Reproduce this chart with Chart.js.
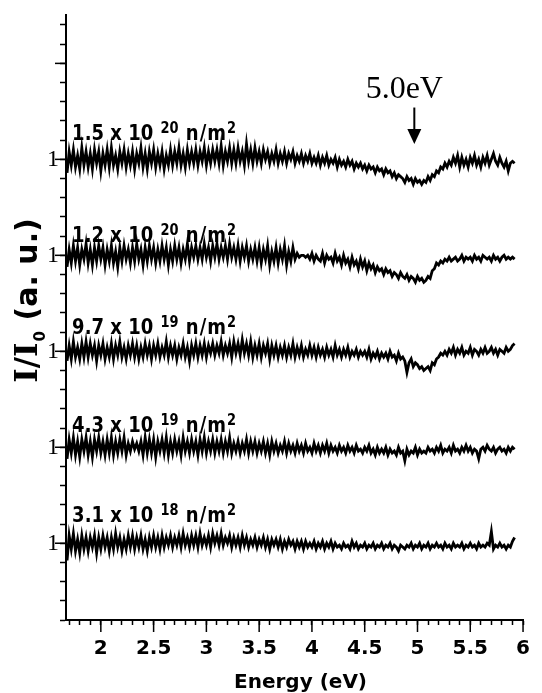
<!DOCTYPE html>
<html><head><meta charset="utf-8">
<script src="https://cdn.jsdelivr.net/npm/chart.js@4.4.1/dist/chart.umd.min.js"></script>
<style>html,body{margin:0;padding:0;background:#fff;}canvas{display:block;}</style>
</head><body>
<canvas id="c" width="542" height="693"></canvas>
<script>
// Photon energy (eV)
const energy = [
1.68,1.7,1.72,1.74,1.76,1.78,1.8,1.82,1.84,1.86,
1.88,1.9,1.92,1.94,1.96,1.98,2,2.02,2.04,2.06,
2.08,2.1,2.12,2.14,2.16,2.18,2.2,2.22,2.24,2.26,
2.28,2.3,2.32,2.34,2.36,2.38,2.4,2.42,2.44,2.46,
2.48,2.5,2.52,2.54,2.56,2.58,2.6,2.62,2.64,2.66,
2.68,2.7,2.72,2.74,2.76,2.78,2.8,2.82,2.84,2.86,
2.88,2.9,2.92,2.94,2.96,2.98,3,3.02,3.04,3.06,
3.08,3.1,3.12,3.14,3.16,3.18,3.2,3.22,3.24,3.26,
3.28,3.3,3.32,3.34,3.36,3.38,3.4,3.42,3.44,3.46,
3.48,3.5,3.52,3.54,3.56,3.58,3.6,3.62,3.64,3.66,
3.68,3.7,3.72,3.74,3.76,3.78,3.8,3.82,3.84,3.86,
3.88,3.9,3.92,3.94,3.96,3.98,4,4.02,4.04,4.06,
4.08,4.1,4.12,4.14,4.16,4.18,4.2,4.22,4.24,4.26,
4.28,4.3,4.32,4.34,4.36,4.38,4.4,4.42,4.44,4.46,
4.48,4.5,4.52,4.54,4.56,4.58,4.6,4.62,4.64,4.66,
4.68,4.7,4.72,4.74,4.76,4.78,4.8,4.82,4.84,4.86,
4.88,4.9,4.92,4.94,4.96,4.98,5,5.02,5.04,5.06,
5.08,5.1,5.12,5.14,5.16,5.18,5.2,5.22,5.24,5.26,
5.28,5.3,5.32,5.34,5.36,5.38,5.4,5.42,5.44,5.46,
5.48,5.5,5.52,5.54,5.56,5.58,5.6,5.62,5.64,5.66,
5.68,5.7,5.72,5.74,5.76,5.78,5.8,5.82,5.84,5.86,
5.88,5.9,5.92];

// I/I0 deviation from each trace's "1" level (a.u., 1 minor tick = 10)
const dose15e20 = [
-7,4,-3,5,-4,2,-5,6,-3,4, -4,3,-5,5,-2,4,-6,3,-3,5, -4,6,-3,2,-5,4,-2,5,-4,3,
-3,4,-5,3,-2,6,-4,3,-5,4, -2,5,-4,3,-3,4,-5,2,-3,5, -3,4,-2,6,-3,3,-4,5,-2,4,
-2,5,-3,4,-1,6,-3,4,-2,5, -1,5,-2,7,-3,4,-1,6,-2,5, -2,6,-1,4,-3,8,-1,5,-2,6,
-1,4,-2,5,0,4,-2,3,-1,5, -2,3,-1,4,-2,3,0,4,-2,2, -1,3,-2,2,-1,3,-2,1,-2,2,
-3,1,-2,2,-3,0,-2,1,-4,0, -3,-1,-4,0,-3,-1,-5,-2,-4,-2, -5,-3,-6,-3,-5,-4,-7,-4,-6,-5,
-8,-5,-7,-6,-9,-7,-10,-8,-9,-10, -12,-9,-11,-10,-13,-10,-12,-11,-13,-11, -12,-9,-11,-8,-9,-6,-7,-4,-5,-2,
-4,-1,-3,1,-2,2,-4,1,-3,0, -4,1,-2,2,-3,0,-4,1,-2,2, -3,0,3,-1,-3,1,-2,-4,-1,-6,
-2,-1,-2];
const dose12e20 = [
-6,3,-4,5,-3,4,-5,3,-2,6, -4,3,-5,4,-3,5,-2,4,-5,3, -3,5,-4,2,-6,4,-3,5,-2,3,
-4,4,-3,6,-2,3,-5,4,-3,5, -2,4,-4,3,-3,5,-2,4,-5,3, -3,5,-2,4,-4,3,-2,6,-3,4,
-1,5,-2,4,-2,6,-1,4,-3,5, -1,6,-2,4,-1,5,-2,6,-1,4, -2,5,-3,4,-1,5,-3,3,-2,4,
-3,4,-4,3,-2,5,-5,2,-3,4, -4,3,-2,5,-5,2,-3,4,-2,1, -1,0,0,-1,0,-2,1,-3,0,-2,
-3,1,-4,0,-2,-1,-4,1,-3,-1, -5,0,-4,-2,-6,-1,-5,-3,-7,-2, -6,-3,-8,-4,-7,-5,-9,-6,-8,-7,
-10,-7,-9,-8,-11,-9,-10,-12,-9,-11, -12,-10,-13,-11,-12,-14,-11,-13,-12,-14, -13,-11,-12,-8,-7,-4,-5,-3,-4,-2,
-3,-1,-3,-2,-1,-3,-2,0,-3,-1, -2,-1,-3,0,-2,-1,-3,0,-1,-2, -1,-3,0,-2,-1,-3,-1,0,-2,-1,
-2,-1,-2];
const dose97e19 = [
-5,3,-4,5,-3,2,-4,4,-3,5, -3,4,-2,3,-5,3,-2,4,-4,2, -3,4,-4,3,-2,5,-3,2,-4,3,
-2,4,-3,3,-4,2,-3,4,-2,3, -4,3,-2,4,-3,2,-2,5,-3,3, -2,3,-4,2,-2,4,-3,2,-5,3,
-2,4,-3,3,-2,4,-3,3,-1,4, -2,3,-1,5,-2,3,-1,4,-3,5, -1,4,-2,6,-1,4,-2,5,-3,3,
-2,4,-3,3,-1,4,-4,3,-2,3, -3,2,-2,3,-3,2,-2,4,-3,2, -2,3,-3,1,-2,3,-2,2,-3,2,
-2,1,-3,2,-2,1,-3,3,-2,1, -3,1,-2,2,-3,0,-2,1,-3,0, -2,0,-3,1,-4,-1,-3,0,-4,-1,
-3,-1,-4,0,-3,-2,-5,-1,-4,-3, -5,-11,-6,-4,-8,-6,-7,-9,-8,-10, -9,-8,-10,-6,-7,-4,-3,-1,-2,0,
-2,1,-1,2,-2,1,-1,2,-2,0, -1,2,-2,1,0,-2,1,-1,2,-1, 0,2,-1,1,-2,1,0,-1,2,0,
1,3,4];
const dose43e19 = [
-6,4,-3,5,-4,3,-5,4,-2,5, -4,3,-5,4,-2,5,-3,3,-4,4, -3,5,-4,3,-3,4,-2,5,-4,2,
-2,3,-1,2,-2,3,-4,5,-3,4, -3,4,-5,3,-2,4,-3,5,-4,3, -3,4,-2,3,-4,5,-2,3,-3,4,
-2,3,-4,4,-2,5,-3,3,-2,4, -3,3,-2,4,-3,3,-2,5,-3,2, -2,3,-3,2,-2,4,-3,3,-2,3,
-3,2,-2,3,-3,2,-4,3,-2,2, -3,1,-2,3,-3,2,-2,1,-3,2, -2,1,-3,2,-2,0,-3,2,-2,1,
-3,1,-2,2,-3,1,-2,0,-3,1, -2,0,-3,1,-2,0,-3,1,-2,-1, -3,0,-2,1,-3,-1,-4,0,-3,-1,
-3,0,-4,-1,-3,-2,-4,0,-3,-2, -7,-1,-4,-2,-3,0,-4,-1,-3,-2, -3,0,-2,-1,-3,0,-2,1,-3,-1,
-2,0,-3,1,-2,-1,-3,0,-2,1, -2,0,-3,-1,-2,-6,-1,0,-2,1, -1,-2,0,-3,-1,0,-2,-1,-3,0,
-2,0,-1];
const dose31e18 = [
-9,4,-3,5,-4,2,-5,4,-3,3, -4,3,-2,4,-5,3,-3,4,-2,3, -4,3,-3,5,-2,3,-4,2,-3,4,
-2,4,-3,3,-2,4,-3,2,-4,3, -2,4,-2,3,-3,4,-2,3,-1,4, -2,3,-1,4,-2,5,-1,3,-2,4,
-1,4,-2,5,-1,3,-1,4,-2,5, 0,4,-1,5,-1,3,0,4,-2,3, -1,3,-2,4,-1,3,-2,2,-1,3,
-2,2,-1,3,-2,2,-3,2,-1,2, -2,2,-3,1,-2,2,-1,1,-3,1, -2,1,-3,1,-2,0,-2,1,-3,0,
-2,1,-3,0,-2,1,-3,0,-2,-1, -3,0,-2,-1,-3,1,-2,0,-3,-1, -2,0,-3,-1,-2,0,-3,-1,-2,0,
-3,-1,-2,0,-3,-1,-2,-4,-1,-2, -3,-1,-2,0,-3,-1,-2,0,-3,-1, -2,0,-3,-1,-2,0,-2,-1,-3,0,
-2,-1,-3,0,-2,-1,-2,0,-3,-1, -2,0,-2,-1,-3,0,-2,-1,-2,0, -1,6,-3,-1,-2,0,-2,-1,-3,-1,
-2,1,3];

// Traces (top to bottom) and their labels
const traces = [dose15e20, dose12e20, dose97e19, dose43e19, dose31e18];
const traceMantissa = ['1.5','1.2','9.7','4.3','3.1'];
const traceExponent = ['20','20','19','19','18'];
const traceLevel = [240,190,140,90,40];       // where each trace's "1" sits on the offset axis

// Axis ticks
const xLabeledTicks = [2,2.5,3,3.5,4,4.5,5,5.5,6];
const xTickLabels = ['2','2.5','3','3.5','4','4.5','5','5.5','6'];
const yMajorTicks = [40,90,140,190,240,290];
const yTickLabels = ['1','1','1','1','1',''];

// Annotation
const peakEnergy = 4.97;
const peakText = '5.0eV';

const xMinorTicks = [];
for (let k = 17; k <= 60; k++) xMinorTicks.push(k / 10);
const yMinorTicks = [];
for (let k = 0; k <= 310; k += 10) yMinorTicks.push(k);

const datasets = traces.map((dev, i) => ({
  data: energy.map((e, j) => ({x: e, y: traceLevel[i] + dev[j]})),
  borderColor: '#000', borderWidth: 2.8, pointRadius: 0, tension: 0, fill: false,
  borderJoinStyle: 'miter'
}));

const near = (a, b) => Math.abs(a - b) < 1e-6;

const deco = {
  id: 'deco',
  afterDraw(chart) {
    const {ctx, scales: {x, y}, chartArea: ca} = chart;
    ctx.save();
    ctx.strokeStyle = '#000';
    ctx.fillStyle = '#000';
    ctx.lineWidth = 1.5;
    // longer major ticks
    xLabeledTicks.forEach(v => {
      const px = x.getPixelForValue(v);
      ctx.beginPath(); ctx.moveTo(px, ca.bottom); ctx.lineTo(px, ca.bottom + 12); ctx.stroke();
    });
    yMajorTicks.forEach(v => {
      const py = y.getPixelForValue(v);
      ctx.beginPath(); ctx.moveTo(ca.left - 11, py); ctx.lineTo(ca.left, py); ctx.stroke();
    });
    // x title
    ctx.font = 'bold 20px "DejaVu Sans"';
    ctx.textAlign = 'center'; ctx.textBaseline = 'alphabetic';
    ctx.fillText('Energy (eV)', (ca.left + ca.right) / 2 + 6, 688);
    // y title with subscript
    ctx.save();
    ctx.translate(37, 301);
    ctx.rotate(-Math.PI / 2);
    ctx.textAlign = 'left';
    const fA = 'bold 31px "DejaVu Serif"', fB = 'bold 15px "DejaVu Sans"', fC = 'bold 30px "DejaVu Sans"';
    ctx.font = fA; const wA = ctx.measureText('I/I').width;
    ctx.font = fB; const wB = ctx.measureText('0').width;
    ctx.font = fC; const wC = ctx.measureText(' (a. u.)').width;
    let sx = -(wA + wB + wC) / 2;
    ctx.font = fA; ctx.fillText('I/I', sx, 0); sx += wA;
    ctx.font = fB; ctx.fillText('0', sx + 1, 8); sx += wB + 1;
    ctx.font = fC; ctx.fillText(' (a. u.)', sx, 0);
    ctx.restore();
    // trace labels
    const labelOff = [10, 7, 9, 8, 11];
    traces.forEach((d, i) => {
      const px = x.getPixelForValue(1.728);
      const py = y.getPixelForValue(traceLevel[i] + labelOff[i]);
      ctx.save();
      ctx.translate(px, py);
      ctx.scale(1, 1.15);
      ctx.textAlign = 'left'; ctx.textBaseline = 'alphabetic';
      let cx = 0;
      ctx.font = 'bold 18px "DejaVu Sans"';
      const t1 = traceMantissa[i] + ' x 10';
      ctx.fillText(t1, cx, 0); cx += ctx.measureText(t1 + ' ').width + 1;
      ctx.font = 'bold 13px "DejaVu Sans"';
      ctx.fillText(traceExponent[i], cx, -6); cx += ctx.measureText(traceExponent[i]).width;
      ctx.font = 'bold 18px "DejaVu Sans"';
      ctx.letterSpacing = '1px';
      ctx.fillText(' n/m', cx, 0); cx += ctx.measureText(' n/m').width;
      ctx.letterSpacing = '0px';
      ctx.font = 'bold 13px "DejaVu Sans"';
      ctx.fillText('2', cx, -6);
      ctx.restore();
    });
    // arrow annotation
    const ax = x.getPixelForValue(peakEnergy);
    const tip = y.getPixelForValue(248);
    const tail = y.getPixelForValue(267);
    ctx.lineWidth = 2;
    ctx.beginPath(); ctx.moveTo(ax, tail); ctx.lineTo(ax, tip - 12); ctx.stroke();
    ctx.beginPath(); ctx.moveTo(ax - 7, tip - 15); ctx.lineTo(ax + 7, tip - 15); ctx.lineTo(ax, tip); ctx.closePath(); ctx.fill();
    ctx.font = '32px "Liberation Serif"';
    ctx.textAlign = 'center'; ctx.textBaseline = 'alphabetic';
    ctx.fillText(peakText, ax - 10, y.getPixelForValue(272));
    ctx.restore();
  }
};

new Chart(document.getElementById('c'), {
  type: 'line',
  data: {datasets},
  options: {
    responsive: false, animation: false, devicePixelRatio: 1,
    layout: {padding: {top: 13, right: 7, left: 0, bottom: 0}},
    plugins: {legend: {display: false}, tooltip: {enabled: false}},
    scales: {
      x: {
        type: 'linear', min: 1.67, max: 6,
        afterBuildTicks: s => { s.ticks = xMinorTicks.map(v => ({value: v})); },
        afterFit: s => { s.height = 73; },
        ticks: {
          autoSkip: false, maxRotation: 0, padding: 12, color: '#000',
          font: {family: 'DejaVu Sans', weight: 'bold', size: 20},
          callback: v => { const k = xLabeledTicks.findIndex(t => near(t, v)); return k >= 0 ? xTickLabels[k] : ''; }
        },
        grid: {display: true, drawOnChartArea: false, drawTicks: true, tickLength: 5, tickColor: '#000', tickWidth: 1.5},
        border: {display: true, color: '#000', width: 2}
      },
      y: {
        type: 'linear', min: 0, max: 315,
        afterBuildTicks: s => { s.ticks = yMinorTicks.map(v => ({value: v})); },
        afterFit: s => { s.width = 66; },
        ticks: {
          autoSkip: false, padding: 1, color: '#000',
          font: {family: 'Liberation Serif', size: 24},
          callback: v => { const k = yMajorTicks.findIndex(t => near(t, v)); return k >= 0 ? yTickLabels[k] : ''; }
        },
        grid: {display: true, drawOnChartArea: false, drawTicks: true, tickLength: 6, tickColor: '#000', tickWidth: 1.5},
        border: {display: true, color: '#000', width: 2}
      }
    }
  },
  plugins: [deco]
});
</script>
</body></html>
